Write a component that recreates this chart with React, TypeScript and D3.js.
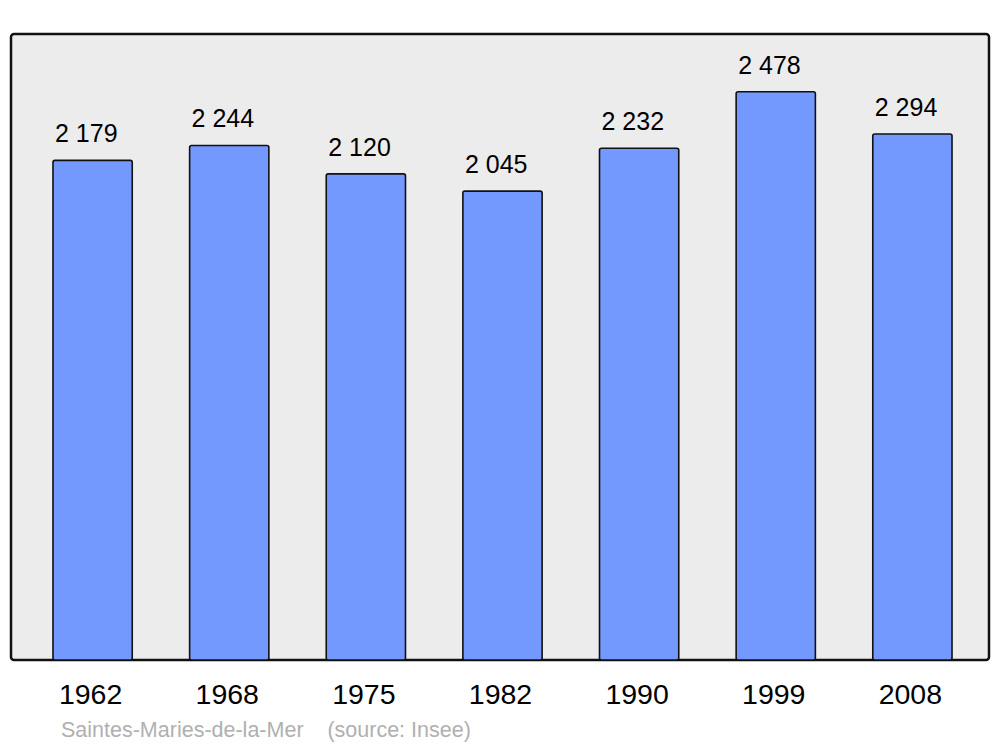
import React from "react";
import * as d3 from "d3";

const years = ["1962", "1968", "1975", "1982", "1990", "1999", "2008"];
const population = [2179, 2244, 2120, 2045, 2232, 2478, 2294];
const valueLabels = ["2 179", "2 244", "2 120", "2 045", "2 232", "2 478", "2 294"];
const caption = "Saintes-Maries-de-la-Mer    (source: Insee)";

const W = 1000;
const H = 747;
const frame = { x: 11, y: 34, w: 978, h: 626 };

export default function App() {
  const x = d3
    .scaleBand<string>()
    .domain(years)
    .range([12, 993])
    .paddingInner(0.42)
    .paddingOuter(0.3);
  const y = d3
    .scaleLinear()
    .domain([0, (d3.max(population) as number) * 1.1])
    .range([frame.y + frame.h, frame.y + 1]);

  const font = "'Liberation Sans', Arial, sans-serif";

  return (
    <svg
      width={W}
      height={H}
      style={{ position: "absolute", left: 0, top: 0, background: "#fff" }}
      fontFamily={font}
    >
      <rect
        x={frame.x}
        y={frame.y}
        width={frame.w}
        height={frame.h}
        rx={3}
        fill="#ececec"
        stroke="#111"
        strokeWidth={2.5}
      />
      {population.map((v, i) => {
        const bx = x(years[i]) as number;
        const top = y(v);
        return (
          <g key={years[i]}>
            <rect
              x={bx}
              y={top}
              width={x.bandwidth()}
              height={y(0) - top}
              rx={2}
              fill="#7399ff"
              stroke="#111"
              strokeWidth={1.6}
            />
            <text x={bx + 2} y={top - 18} fontSize={25} fill="#000">
              {valueLabels[i]}
            </text>
            <text
              x={bx + x.bandwidth() / 2 - 2}
              y={704}
              fontSize={28.5}
              textAnchor="middle"
              fill="#000"
            >
              {years[i]}
            </text>
          </g>
        );
      })}
      <text x={61} y={737} fontSize={21.5} fill="#b0b0b0" style={{ whiteSpace: "pre" }}>
        {caption}
      </text>
    </svg>
  );
}
